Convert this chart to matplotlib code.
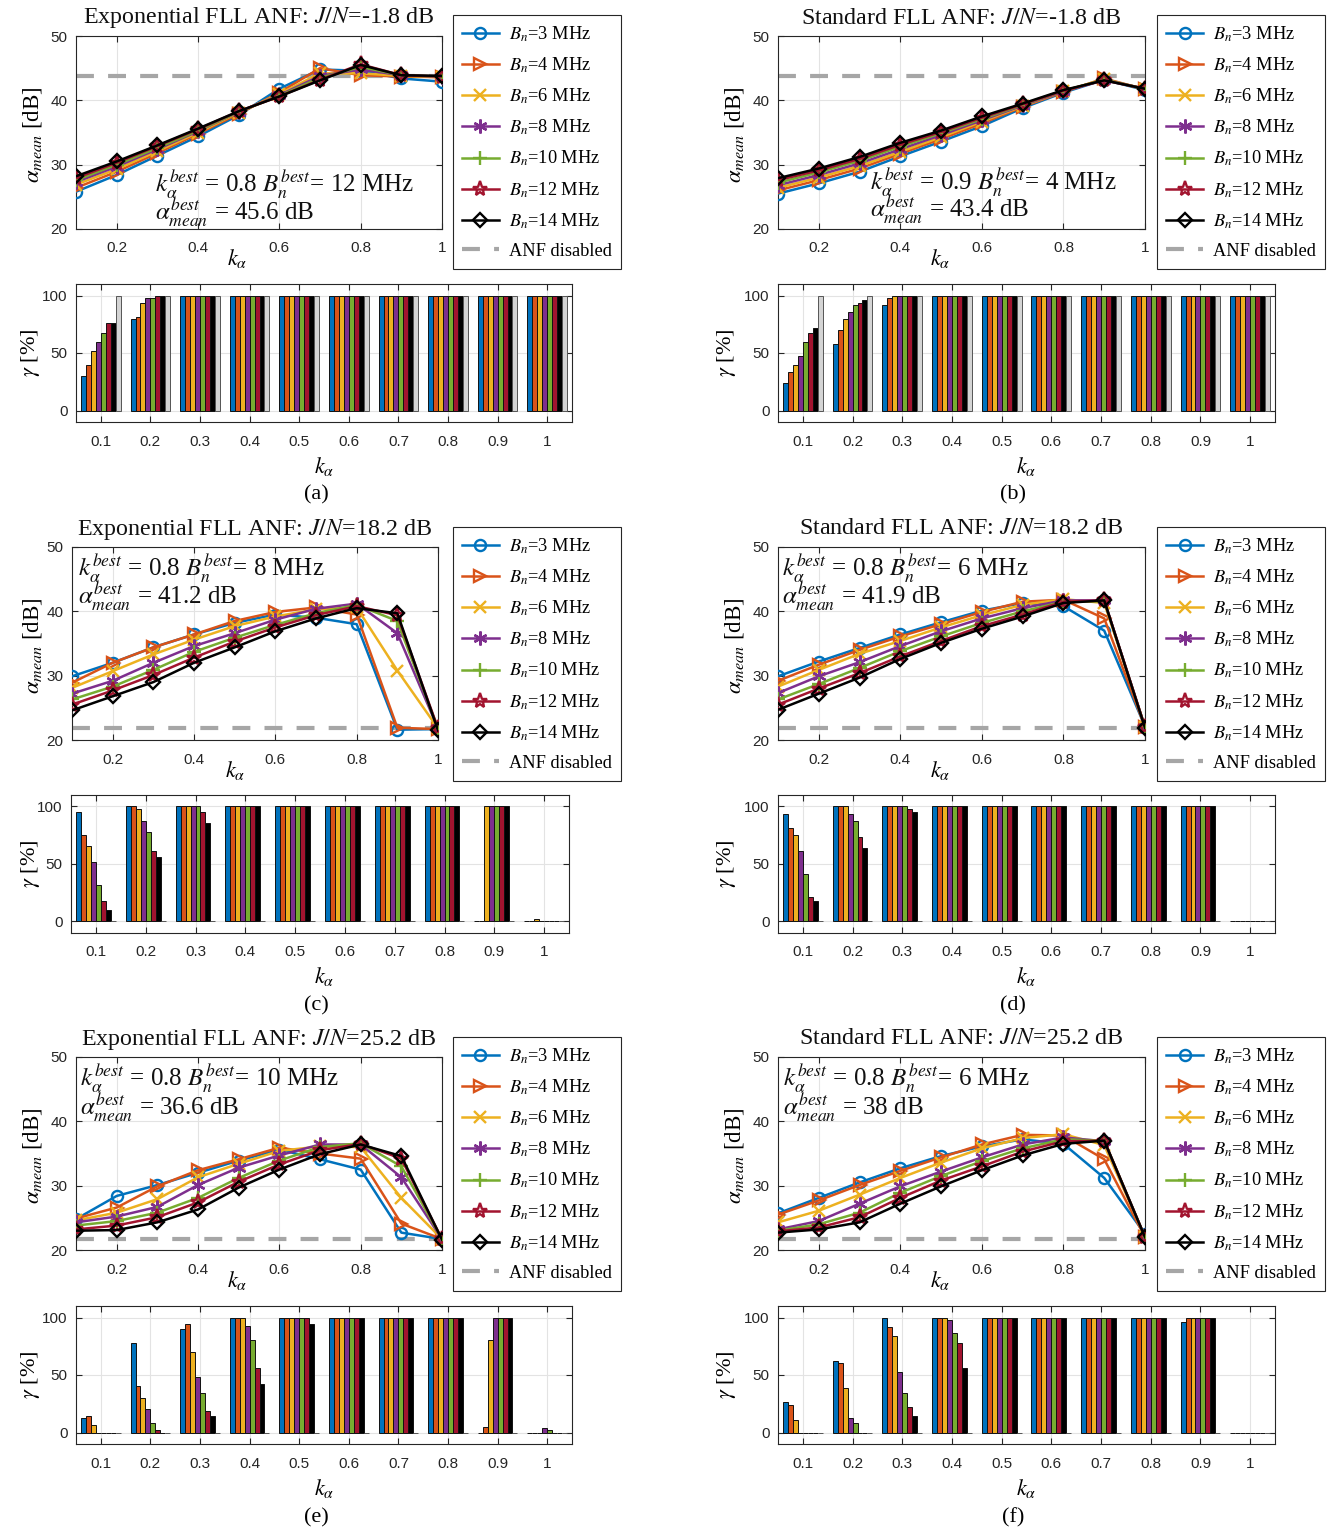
import matplotlib
matplotlib.use('Agg')
import matplotlib.pyplot as plt

plt.rcParams['font.family'] = 'serif'
plt.rcParams['font.serif'] = ['Liberation Serif', 'DejaVu Serif']
plt.rcParams['mathtext.fontset'] = 'stix'

# ---------------- data ----------------
k_alpha = [0.1, 0.2, 0.3, 0.4, 0.5, 0.6, 0.7, 0.8, 0.9, 1.0]
bn_values = [3, 4, 6, 8, 10, 12, 14]
k_ticks_line = [0.2, 0.4, 0.6, 0.8, 1.0]
k_ticklabels_line = ['0.2', '0.4', '0.6', '0.8', '1']
k_ticklabels_bar = ['0.1', '0.2', '0.3', '0.4', '0.5', '0.6', '0.7', '0.8', '0.9', '1']

titles = ['Exponential FLL ANF: $J/N$=-1.8 dB', 'Standard FLL ANF: $J/N$=-1.8 dB',
          'Exponential FLL ANF: $J/N$=18.2 dB', 'Standard FLL ANF: $J/N$=18.2 dB',
          'Exponential FLL ANF: $J/N$=25.2 dB', 'Standard FLL ANF: $J/N$=25.2 dB']
panel_tags = ['(a)', '(b)', '(c)', '(d)', '(e)', '(f)']
best_k = ['0.8', '0.9', '0.8', '0.8', '0.8', '0.8']
best_bn = ['12', '4', '8', '6', '10', '6']
best_alpha = ['45.6', '43.4', '41.2', '41.9', '36.6', '38']
anf_disabled = [43.8, 43.8, 21.8, 21.8, 21.7, 21.7]

# alpha_mean [dB], rows: Bn = 3,4,6,8,10,12,14 MHz
alpha_a = [
    [25.8, 28.4, 31.4, 34.4, 37.7, 41.8, 44.8, 44.6, 43.4, 42.9],
    [26.4, 28.9, 31.8, 34.8, 37.9, 41.2, 45.0, 43.9, 43.7, 43.6],
    [26.9, 29.3, 32.1, 35.0, 38.1, 41.0, 44.2, 44.2, 43.8, 43.6],
    [27.3, 29.7, 32.4, 35.2, 38.2, 40.8, 43.8, 44.8, 43.9, 43.7],
    [27.6, 30.0, 32.6, 35.3, 38.2, 40.7, 43.5, 45.2, 43.9, 43.7],
    [27.9, 30.3, 32.9, 35.5, 38.3, 40.6, 43.2, 45.6, 43.9, 43.7],
    [28.2, 30.5, 33.0, 35.6, 38.3, 40.6, 43.1, 45.5, 43.9, 43.8]]
alpha_b = [
    [25.5, 27.1, 28.9, 31.3, 33.6, 36.0, 38.8, 41.2, 43.2, 41.6],
    [26.0, 27.6, 29.4, 31.7, 34.0, 36.4, 39.0, 41.3, 43.4, 41.7],
    [26.4, 28.0, 29.8, 32.0, 34.3, 36.7, 39.1, 41.4, 43.3, 41.7],
    [26.8, 28.4, 30.2, 32.4, 34.6, 36.9, 39.2, 41.4, 43.2, 41.8],
    [27.2, 28.8, 30.6, 32.8, 34.9, 37.1, 39.3, 41.5, 43.2, 41.8],
    [27.6, 29.1, 30.9, 33.1, 35.1, 37.3, 39.4, 41.5, 43.1, 41.8],
    [27.9, 29.4, 31.2, 33.4, 35.3, 37.5, 39.5, 41.6, 43.1, 41.8]]
alpha_c = [
    [29.9, 32.0, 34.4, 36.4, 38.2, 39.5, 39.0, 38.0, 21.6, 21.7],
    [28.9, 32.0, 34.4, 36.4, 38.5, 39.9, 40.6, 39.5, 21.9, 21.7],
    [28.1, 30.7, 33.3, 35.6, 37.7, 39.2, 40.3, 40.6, 30.8, 21.8],
    [27.2, 29.2, 32.0, 34.6, 36.6, 38.7, 40.4, 41.2, 36.6, 21.8],
    [26.3, 28.3, 30.9, 33.7, 35.9, 37.9, 39.7, 41.0, 38.5, 21.8],
    [25.5, 27.7, 30.1, 32.8, 35.3, 37.5, 39.4, 40.8, 39.4, 21.8],
    [24.6, 26.8, 29.0, 32.0, 34.4, 36.9, 38.9, 40.5, 39.7, 21.5]]
alpha_d = [
    [29.9, 32.2, 34.3, 36.4, 38.3, 40.1, 41.3, 40.8, 37.0, 22.1],
    [29.2, 31.7, 34.0, 36.1, 38.0, 39.9, 41.5, 41.8, 38.9, 22.0],
    [28.3, 30.9, 33.4, 35.4, 37.5, 39.4, 41.0, 41.9, 41.3, 22.0],
    [27.3, 29.9, 32.1, 34.6, 36.9, 38.9, 40.5, 41.7, 41.7, 22.0],
    [26.3, 28.7, 31.2, 33.8, 36.1, 38.2, 40.0, 41.5, 41.6, 22.0],
    [25.5, 28.0, 30.4, 33.0, 35.4, 37.7, 39.5, 41.5, 41.7, 22.0],
    [24.7, 27.2, 29.7, 32.6, 35.1, 37.3, 39.2, 41.3, 41.7, 21.9]]
alpha_e = [
    [24.8, 28.4, 30.1, 32.0, 33.9, 35.6, 34.1, 32.5, 22.7, 21.7],
    [24.9, 26.6, 29.9, 32.4, 34.1, 35.9, 35.0, 34.2, 24.1, 21.7],
    [24.6, 25.8, 27.9, 31.3, 33.4, 35.4, 36.1, 36.0, 28.1, 21.7],
    [24.3, 25.2, 26.7, 30.1, 32.8, 34.7, 36.4, 36.4, 31.3, 21.7],
    [23.8, 24.5, 25.8, 28.1, 31.2, 33.9, 36.0, 36.6, 33.0, 21.7],
    [23.2, 23.8, 25.1, 27.4, 30.6, 33.3, 35.5, 36.5, 34.2, 21.7],
    [23.0, 23.1, 24.3, 26.3, 29.7, 32.5, 34.9, 36.4, 34.6, 21.6]]
alpha_f = [
    [25.7, 28.1, 30.5, 32.7, 34.6, 36.1, 37.2, 36.5, 31.2, 22.5],
    [25.5, 27.7, 30.1, 32.3, 34.4, 36.4, 37.9, 37.8, 34.1, 22.0],
    [24.3, 26.1, 28.6, 31.2, 33.6, 35.8, 37.4, 38.0, 36.3, 22.0],
    [23.2, 24.5, 27.2, 29.9, 32.2, 34.4, 36.4, 37.5, 36.9, 22.0],
    [23.0, 24.0, 25.8, 28.9, 31.5, 33.8, 35.8, 37.2, 37.0, 22.0],
    [22.9, 23.5, 25.1, 28.1, 30.8, 33.0, 35.3, 36.9, 37.0, 22.0],
    [22.7, 23.2, 24.3, 27.2, 29.9, 32.4, 34.7, 36.5, 37.0, 22.0]]

# gamma [%], rows: Bn = 3,4,6,8,10,12,14 MHz, ANF disabled
gamma_a = [
    [29.6, 80.0, 100, 100, 100, 100, 100, 100, 100, 100],
    [39.6, 81.5, 100, 100, 100, 100, 100, 100, 100, 100],
    [51.6, 93.8, 100, 100, 100, 100, 100, 100, 100, 100],
    [59.8, 97.4, 100, 100, 100, 100, 100, 100, 100, 100],
    [67.7, 97.7, 100, 100, 100, 100, 100, 100, 100, 100],
    [75.9, 100, 100, 100, 100, 100, 100, 100, 100, 100],
    [75.9, 100, 100, 100, 100, 100, 100, 100, 100, 100],
    [100, 100, 100, 100, 100, 100, 100, 100, 100, 100]]
gamma_b = [
    [23.8, 58.0, 91.8, 100, 100, 100, 100, 100, 100, 100],
    [33.7, 69.8, 97.7, 100, 100, 100, 100, 100, 100, 100],
    [39.6, 79.8, 100, 100, 100, 100, 100, 100, 100, 100],
    [47.5, 85.9, 100, 100, 100, 100, 100, 100, 100, 100],
    [59.5, 91.8, 100, 100, 100, 100, 100, 100, 100, 100],
    [67.7, 93.8, 100, 100, 100, 100, 100, 100, 100, 100],
    [71.8, 95.9, 100, 100, 100, 100, 100, 100, 100, 100],
    [100, 100, 100, 100, 100, 100, 100, 100, 100, 100]]
gamma_c = [
    [95.3, 100, 100, 100, 100, 100, 100, 100, 0, 0],
    [75.2, 100, 100, 100, 100, 100, 100, 100, 0, 0],
    [65.3, 97.4, 100, 100, 100, 100, 100, 100, 100, 2.0],
    [51.6, 87.5, 100, 100, 100, 100, 100, 100, 100, 0],
    [31.5, 77.6, 100, 100, 100, 100, 100, 100, 100, 0],
    [17.8, 61.5, 95.3, 100, 100, 100, 100, 100, 100, 0],
    [9.9, 55.7, 85.7, 100, 100, 100, 100, 100, 100, 0],
    [0, 0, 0, 0, 0, 0, 0, 0, 0, 0]]
gamma_d = [
    [93.3, 100, 100, 100, 100, 100, 100, 100, 100, 0],
    [81.0, 100, 100, 100, 100, 100, 100, 100, 100, 0],
    [75.5, 100, 100, 100, 100, 100, 100, 100, 100, 0],
    [61.2, 93.3, 100, 100, 100, 100, 100, 100, 100, 0],
    [41.4, 87.2, 100, 100, 100, 100, 100, 100, 100, 0],
    [21.6, 73.2, 97.7, 100, 100, 100, 100, 100, 100, 0],
    [18.1, 63.6, 95.6, 100, 100, 100, 100, 100, 100, 0],
    [0, 0, 0, 0, 0, 0, 0, 0, 0, 0]]
gamma_e = [
    [12.3, 78.0, 90.4, 100, 100, 100, 100, 100, 0, 0],
    [14.0, 40.4, 94.2, 100, 100, 100, 100, 100, 4.4, 0],
    [6.1, 30.4, 70.2, 100, 100, 100, 100, 100, 80.1, 0],
    [0, 20.2, 48.2, 92.4, 100, 100, 100, 100, 100, 4.1],
    [0, 8.2, 34.2, 80.4, 100, 100, 100, 100, 100, 2.3],
    [0, 2.3, 18.4, 56.1, 100, 100, 100, 100, 100, 0],
    [0, 0, 14.3, 42.4, 94.4, 100, 100, 100, 100, 0],
    [0, 0, 0, 0, 0, 0, 0, 0, 0, 0]]
gamma_f = [
    [26.3, 62.3, 100, 100, 100, 100, 100, 100, 96.2, 0],
    [24.3, 60.5, 92.1, 100, 100, 100, 100, 100, 100, 0],
    [10.5, 38.3, 84.2, 100, 100, 100, 100, 100, 100, 0],
    [0, 12.3, 52.3, 98.0, 100, 100, 100, 100, 100, 0],
    [0, 8.2, 34.2, 86.3, 100, 100, 100, 100, 100, 0],
    [0, 0, 22.2, 78.1, 100, 100, 100, 100, 100, 0],
    [0, 0, 14.3, 56.1, 100, 100, 100, 100, 100, 0],
    [0, 0, 0, 0, 0, 0, 0, 0, 0, 0]]

alphas = [alpha_a, alpha_b, alpha_c, alpha_d, alpha_e, alpha_f]
gammas = [gamma_a, gamma_b, gamma_c, gamma_d, gamma_e, gamma_f]

# ---------------- style ----------------
colors = ['#0072BD', '#D95319', '#EDB120', '#7E2F8E', '#77AC30', '#A2142F', '#000000']
anf_color = '#A6A6A6'
anf_bar_color = '#D4D4D4'
markers = ['o', '>', 'x', (6, 2, 0), '+', '*', 'D']
msizes = [8, 8, 8, 10, 10, 11, 7]
axc = '#262626'
tickfont = {'family': 'Liberation Sans', 'size': 11}

W, H = 1335, 1532
fig = plt.figure(figsize=(W / 100, H / 100), dpi=100)


def add_ax(l, t, r, b):
    return fig.add_axes([l / W, 1 - b / H, (r - l) / W, (b - t) / H])


def ftext(x, y, s, **kw):
    fig.text(x / W, 1 - y / H, s, **kw)


def style_axes(ax, xpad):
    for sp in ax.spines.values():
        sp.set_color(axc)
        sp.set_linewidth(0.8)
    ax.tick_params(direction='in', top=True, right=True, length=4,
                   width=0.8, color=axc, labelcolor=axc)
    ax.tick_params(axis='x', pad=xpad)
    ax.tick_params(axis='y', pad=6)
    ax.grid(True, color='#E3E3E3', linewidth=0.8)
    ax.set_axisbelow(True)
    for lab in ax.get_xticklabels() + ax.get_yticklabels():
        lab.set_fontfamily(tickfont['family'])
        lab.set_fontsize(tickfont['size'])


# layout (pixels)
cols_x = [dict(line=(76, 442), leg=453, bar=(76, 572), tag=316, ylab=32, yblab=30, klab=237, kblab=324),
          dict(line=(778, 1145), leg=1157, bar=(778, 1275), tag=1013, ylab=735, yblab=727, klab=940, kblab=1026)]
rows_y = [dict(line=(36, 229), leg=15, bar=(284, 422), tag=495),
          dict(line=(547, 740), leg=527, bar=(795, 933), tag=1006),
          dict(line=(1057, 1250), leg=1037, bar=(1306, 1444), tag=1518)]
ann_pos = [(155, 185, 213), (870, 183, 210), (78, 569, 597), (782, 569, 597), (80, 1079, 1108), (783, 1079, 1108)]

for p in range(6):
    r, c = divmod(p, 2)
    cx, ry = cols_x[c], rows_y[r]
    # ---------- line plot ----------
    l, rr = cx['line']
    t, b = ry['line']
    if r == 1 and c == 0:
        l, rr = 72, 438
    ax = add_ax(l, t, rr, b)
    handles = []
    for i in range(7):
        h, = ax.plot(k_alpha, alphas[p][i], color=colors[i], marker=markers[i],
                     markersize=msizes[i], markerfacecolor='none', markeredgewidth=1.7,
                     linewidth=1.8, zorder=3 + i,
                     label='$B_n$=%d MHz' % bn_values[i])
        handles.append(h)
    hd, = ax.plot([k_alpha[0], k_alpha[-1]], [anf_disabled[p], anf_disabled[p]],
                  color=anf_color, linewidth=3, dashes=(4.3, 3.4), zorder=2,
                  label='ANF disabled')
    handles.append(hd)
    ax.set_xlim(0.1, 1.0)
    ax.set_ylim(20, 50)
    ax.set_xticks(k_ticks_line)
    ax.set_xticklabels(k_ticklabels_line)
    ax.set_yticks([20, 30, 40, 50])
    style_axes(ax, 9)
    ftext((l + rr) / 2, t - 18, titles[p], fontsize=17.3, ha='center', va='center',
          color='#111111')
    lx, ly1, ly2 = ann_pos[p]
    ftext(lx, ly1, r'$k_\alpha^{best}$ = %s $B_n^{best}$= %s MHz' % (best_k[p], best_bn[p]),
          fontsize=18, va='center', ha='left', color='#111111')
    ftext(lx, ly2, r'$\alpha_{mean}^{best}$ = %s dB' % best_alpha[p],
          fontsize=18, va='center', ha='left', color='#111111')
    ftext(cx['klab'] if not (r == 1 and c == 0) else 235, b + 30, r'$k_\alpha$', fontsize=16,
          ha='center', va='center')
    ftext(cx['ylab'], (t + b) / 2 + 2, r'$\alpha_{mean}$ [dB]', fontsize=16.5, rotation=90,
          ha='center', va='center')
    leg = fig.legend(handles=handles, loc='upper left',
                     bbox_to_anchor=(cx['leg'] / W, 1 - ry['leg'] / H),
                     fontsize=13.2, frameon=True, fancybox=False, edgecolor='#262626',
                     framealpha=1, handlelength=2.0, handletextpad=0.55,
                     labelspacing=0.645, borderpad=0.5, borderaxespad=0)
    leg.get_frame().set_linewidth(0.8)

    # ---------- bar plot ----------
    bl, br = cx['bar']
    bt, bb = ry['bar']
    if r == 1 and c == 0:
        bl, br = 71, 569
    bax = add_ax(bl, bt, br, bb)
    width = 0.01
    for i in range(8):
        xs = [k + (i - 3.5) * width for k in k_alpha]
        if i < 7:
            bax.bar(xs, gammas[p][i], width=width, color=colors[i], edgecolor='#111111',
                    linewidth=0.7, zorder=3)
        else:
            bax.bar(xs, gammas[p][i], width=width, color=anf_bar_color, edgecolor='#555555',
                    linewidth=0.7, zorder=3)
    bax.set_xlim(0.05, 1.05)
    bax.set_ylim(-10, 110)
    bax.set_xticks(k_alpha)
    bax.set_xticklabels(k_ticklabels_bar)
    bax.set_yticks([0, 50, 100])
    style_axes(bax, 9)
    ftext(cx['kblab'], bb + 44, r'$k_\alpha$', fontsize=16, ha='center', va='center')
    ftext(cx['yblab'], (bt + bb) / 2, r'$\gamma$ [%]', fontsize=16, rotation=90,
          ha='center', va='center')
    ftext(cx['tag'], ry['tag'], panel_tags[p], fontsize=16, ha='center', va='center')

fig.savefig('out.png', dpi=100)
